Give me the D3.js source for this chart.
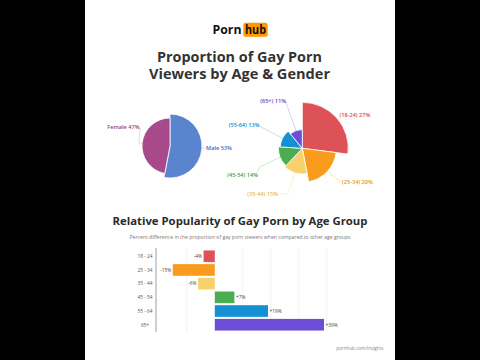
<!DOCTYPE html>
<html><head><meta charset="utf-8">
<script src="https://cdn.jsdelivr.net/npm/d3@7"></script>
<style>html,body{margin:0;padding:0;background:#000;}svg{display:block;}</style>
</head><body>
<svg id="c" width="480" height="360"></svg>
<script>
// ---- data ----
const genderLabels = ["Male", "Female"];
const genderValues = [53, 47];
const ageLabels = ["18-24", "25-34", "35-44", "45-54", "55-64", "65+"];
const ageValues = [27, 20, 15, 14, 13, 11];
const barCategories = ["18 - 24", "25 - 34", "35 - 44", "45 - 54", "55 - 64", "65+"];
const barValues = [-4, -15, -6, 7, 19, 39];
const gridTicks = [-10, 10, 20, 30, 40];

// ---- styles ----
const genderColors = ["#5B84CF", "#A8498C"];
const genderText = ["#3F6BB8", "#983F80"];
const ageColors = ["#DD5257", "#F99B1C", "#F8D06C", "#4BAD4F", "#1590D2", "#6C4FD6"];
const ageText = ["#D84A4F", "#F0921A", "#E9BA48", "#43A047", "#1287C8", "#6244D0"];
const FONT = "'Open Sans', 'DejaVu Sans', sans-serif";

const svg = d3.select("#c");
// white panel
svg.append("rect").attr("x", 85).attr("y", 0).attr("width", 310).attr("height", 360).attr("fill", "#fff");

// logo
svg.append("text").attr("x", 241.5).attr("y", 34.3).attr("text-anchor", "end")
  .attr("font-family", FONT).attr("font-weight", 700).attr("font-size", 12.5).attr("fill", "#111")
  .attr("textLength", 29).attr("lengthAdjust", "spacingAndGlyphs").text("Porn");
svg.append("rect").attr("x", 243.3).attr("y", 22.7).attr("width", 24.4).attr("height", 14).attr("rx", 2).attr("fill", "#FF9900");
svg.append("text").attr("x", 255.5).attr("y", 34.3).attr("text-anchor", "middle")
  .attr("font-family", FONT).attr("font-weight", 700).attr("font-size", 12.5).attr("fill", "#111")
  .attr("textLength", 21).attr("lengthAdjust", "spacingAndGlyphs").text("hub");

// title
function ttl(txt, x, y, size, w, color, weight) {
  svg.append("text").attr("x", x).attr("y", y).attr("text-anchor", "middle")
    .attr("font-family", FONT).attr("font-weight", weight || 700).attr("font-size", size)
    .attr("fill", color).attr("textLength", w).attr("lengthAdjust", "spacingAndGlyphs").text(txt);
}
ttl("Proportion of Gay Porn", 239.5, 62, 13.5, 165, "#333");
ttl("Viewers by Age & Gender", 239.5, 79, 13.5, 181, "#333");

// ---- gender pie ----
const gCx = 170, gCy = 146;
const gR = d3.scaleLinear().domain([0, 53]).range([0, 32]);
const pie = d3.pie().sort(null).value(d => d).startAngle(0).endAngle(2 * Math.PI);
const gArcs = pie(genderValues);
const gG = svg.append("g").attr("transform", `translate(${gCx},${gCy})`);
gG.selectAll("path").data(gArcs).enter().append("path")
  .attr("d", d => d3.arc().innerRadius(0).outerRadius(d.data === 53 ? 32 : 28)(d))
  .attr("fill", (d, i) => genderColors[i]).attr("stroke", "#fff").attr("stroke-width", 0.8);
// gender labels
svg.append("polyline").attr("points", "140,128 139,143 142,143").attr("fill", "none")
  .attr("stroke", "#d9b8cf").attr("stroke-width", 0.6);
svg.append("text").attr("x", 139.5).attr("y", 129).attr("text-anchor", "end")
  .attr("font-family", FONT).attr("font-weight", 600).attr("font-size", 5.6).attr("fill", genderText[1])
  .text(genderLabels[1] + " " + genderValues[1] + "%");
svg.append("line").attr("x1", 202).attr("y1", 148).attr("x2", 205.5).attr("y2", 148)
  .attr("stroke", "#b8c8ea").attr("stroke-width", 0.6);
svg.append("text").attr("x", 206).attr("y", 149.5).attr("text-anchor", "start")
  .attr("font-family", FONT).attr("font-weight", 600).attr("font-size", 5.6).attr("fill", genderText[0])
  .text(genderLabels[0] + " " + genderValues[0] + "%");

// ---- age pie (variable radius) ----
const aCx = 302.3, aCy = 148.3;
const aR = d3.scaleLinear().domain([0, 27]).range([0, 46]);
const aArcs = pie(ageValues);
const aG = svg.append("g").attr("transform", `translate(${aCx},${aCy})`);
aG.selectAll("path").data(aArcs).enter().append("path")
  .attr("d", d => d3.arc().innerRadius(0).outerRadius(aR(d.data))(d))
  .attr("fill", (d, i) => ageColors[i]).attr("stroke", "#fff").attr("stroke-width", 0.8);

// label layout (annotation positions)
const ageLabelLayout = [
  { x: 339.5, y: 117, anchor: "start", pts: null },
  { x: 342, y: 184, anchor: "start", pts: [[0.9, 0], [341, 182]] },
  { x: 278, y: 196, anchor: "end", pts: [[0.95, 0], [288, 193.5], [279, 194]] },
  { x: 258, y: 176.5, anchor: "end", pts: [[0.95, 0], [260, 166.7], [257.5, 172]] },
  { x: 259.5, y: 127, anchor: "end", pts: [[0.95, 0], [260, 126.5]] },
  { x: 286, y: 103, anchor: "end", pts: [[0.9, 0], [286, 102.5]] }
];
aArcs.forEach((d, i) => {
  const L = ageLabelLayout[i];
  if (L.pts) {
    const mid = (d.startAngle + d.endAngle) / 2;
    const r = aR(d.data) * L.pts[0][0];
    const start = [aCx + r * Math.sin(mid), aCy - r * Math.cos(mid)];
    const pts = [start].concat(L.pts.slice(1));
    svg.append("polyline").attr("points", pts.map(p => p.join(",")).join(" "))
      .attr("fill", "none").attr("stroke", ageColors[i]).attr("stroke-opacity", 0.45).attr("stroke-width", 0.6);
  }
  svg.append("text").attr("x", L.x).attr("y", L.y).attr("text-anchor", L.anchor)
    .attr("font-family", FONT).attr("font-weight", 600).attr("font-size", 5.6).attr("fill", ageText[i])
    .text("(" + ageLabels[i] + ") " + ageValues[i] + "%");
});

// ---- bar chart ----
ttl("Relative Popularity of Gay Porn by Age Group", 240, 224.5, 10.5, 255, "#2b2b2b");
ttl("Percent difference in the proportion of gay porn viewers when compared to other age groups", 240, 239.3, 4.6, 221, "#777", 400);

const x = d3.scaleLinear().domain([-21, 40]).range([156, 326.8]);
const y = d3.scaleBand().domain(barCategories).range([249.5, 331.5]).paddingInner(0.15).paddingOuter(0.07);

const grid = svg.append("g");
grid.selectAll("line").data(gridTicks).enter().append("line")
  .attr("x1", d => x(d)).attr("x2", d => x(d)).attr("y1", 248).attr("y2", 332)
  .attr("stroke", "#e6e6e6").attr("stroke-width", 0.6);
svg.append("line").attr("x1", x(-21)).attr("x2", x(-21)).attr("y1", 248).attr("y2", 332)
  .attr("stroke", "#888").attr("stroke-width", 0.8);

svg.append("g").selectAll("rect").data(barValues).enter().append("rect")
  .attr("x", d => x(Math.min(0, d))).attr("width", d => Math.abs(x(d) - x(0)))
  .attr("y", (d, i) => y(barCategories[i])).attr("height", y.bandwidth())
  .attr("fill", (d, i) => ageColors[i]);

svg.append("g").selectAll("text").data(barCategories).enter().append("text")
  .attr("x", 145).attr("y", d => y(d) + y.bandwidth() / 2 + 1.8).attr("text-anchor", "middle")
  .attr("font-family", FONT).attr("font-size", 4.8).attr("fill", "#555").text(d => d);

svg.append("g").selectAll("text").data(barValues).enter().append("text")
  .attr("x", d => d < 0 ? x(d) - 1.5 : x(d) + 1.5)
  .attr("y", (d, i) => y(barCategories[i]) + y.bandwidth() / 2 + 1.8)
  .attr("text-anchor", d => d < 0 ? "end" : "start")
  .attr("font-family", FONT).attr("font-size", 4.8).attr("fill", "#444")
  .text(d => (d > 0 ? "+" : "") + d + "%");

// footer
svg.append("text").attr("x", 383.5).attr("y", 350).attr("text-anchor", "end")
  .attr("font-family", FONT).attr("font-size", 4.6).attr("fill", "#888").text("pornhub.com/insights");
</script>
</body></html>
